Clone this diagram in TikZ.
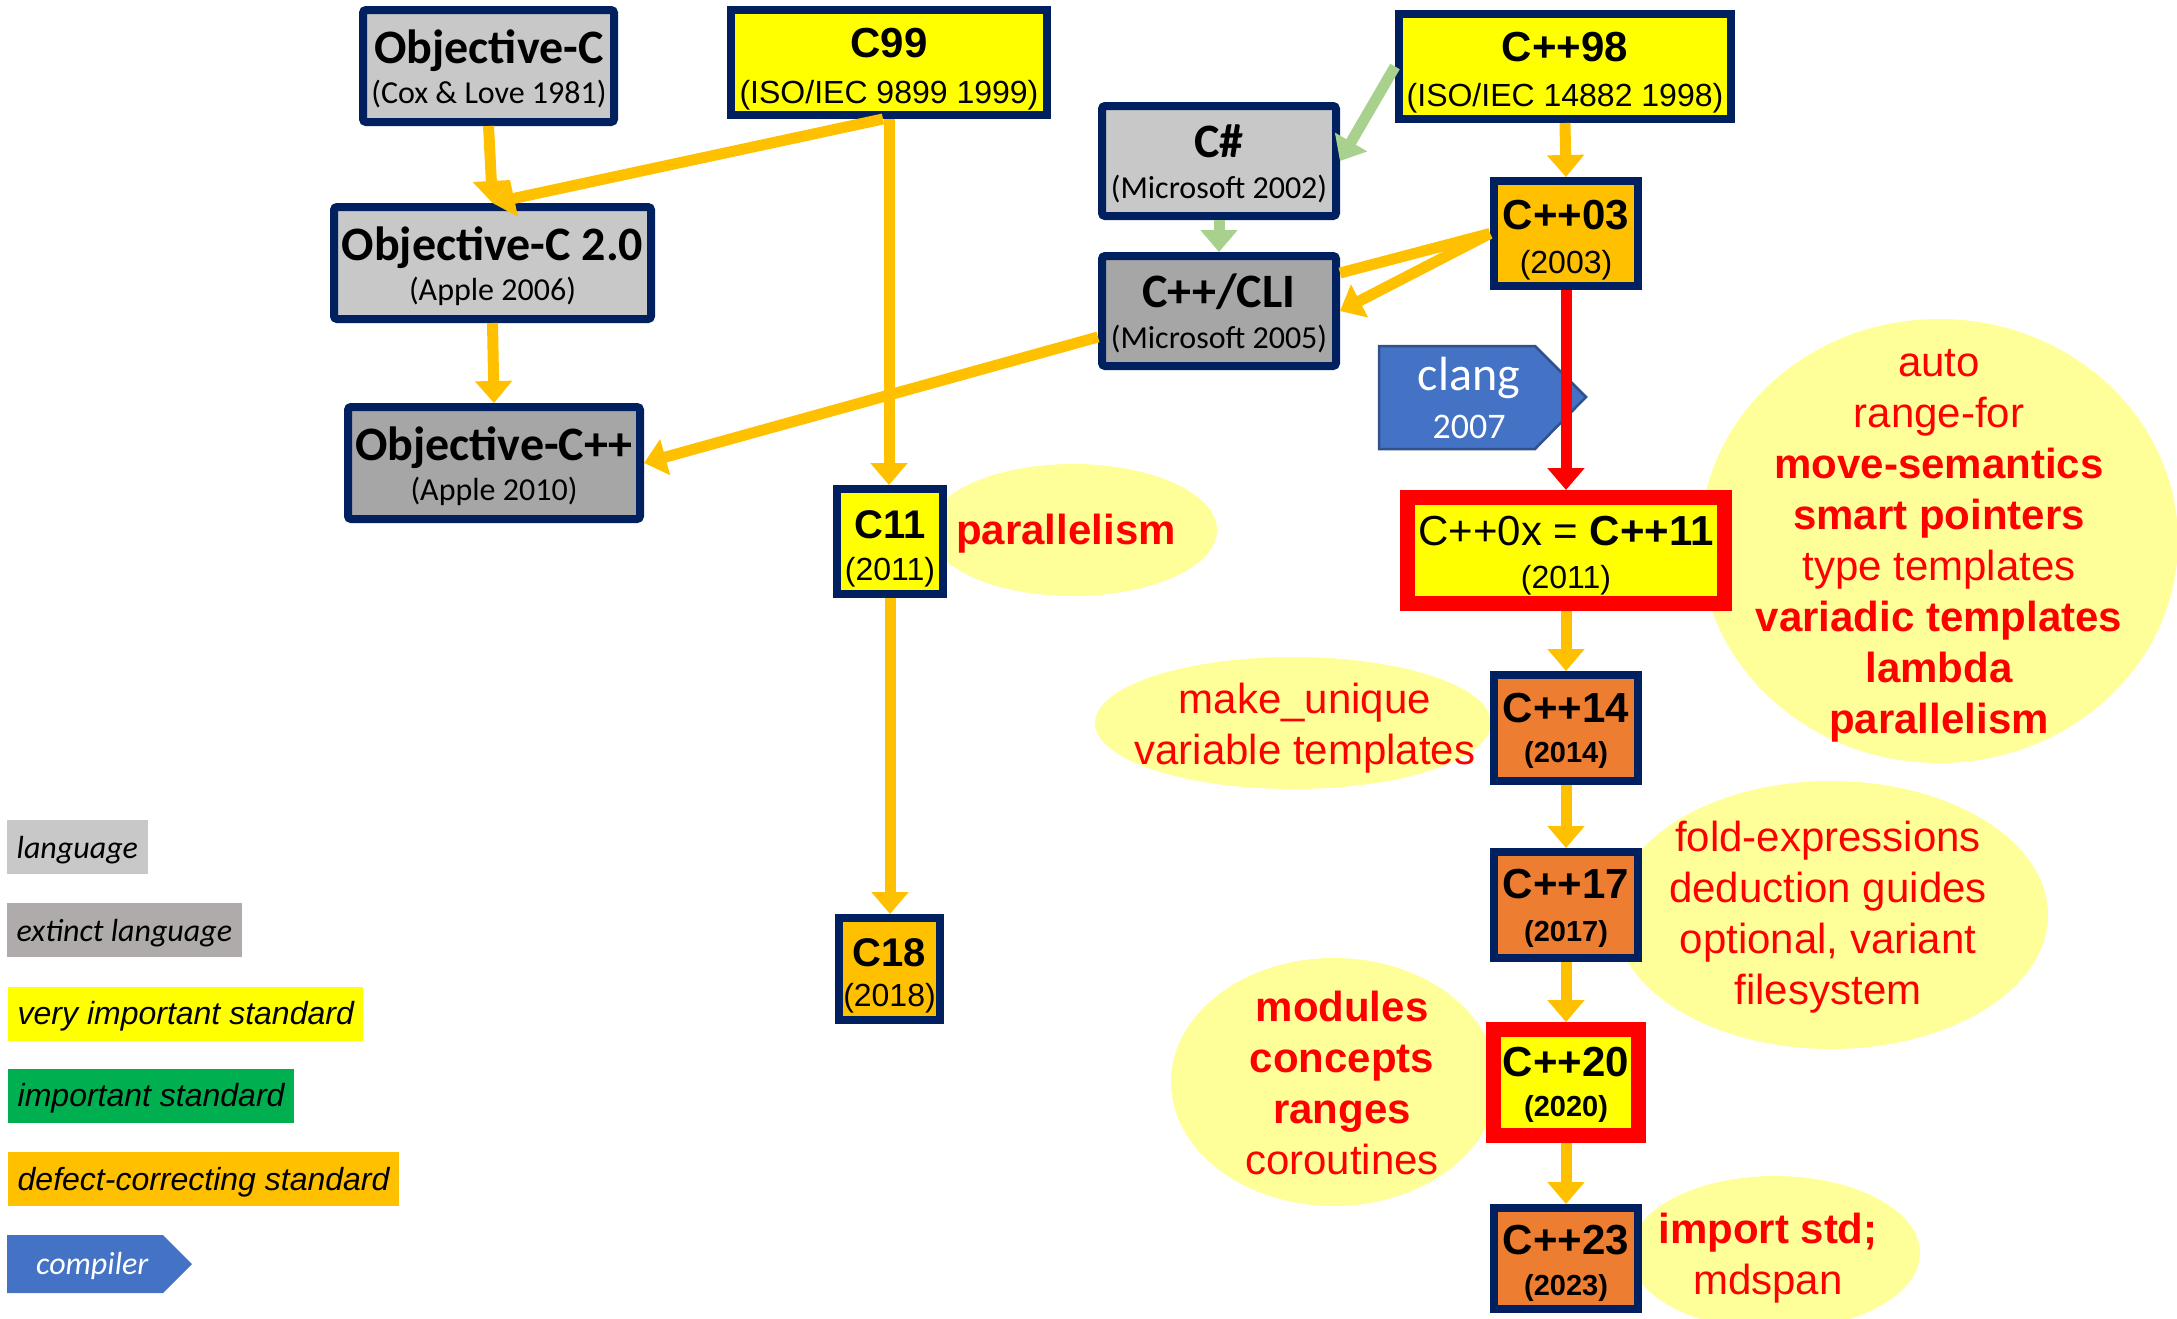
\documentclass[tikz,border=0pt]{standalone}
\usepackage{fontspec}
\setmainfont{Liberation Sans}
\newfontfamily\calibri{Carlito}
\usetikzlibrary{arrows.meta,shapes.geometric}

\definecolor{cNavy}{HTML}{002060}
\definecolor{cLang}{HTML}{C8C8C8}
\definecolor{cExtinct}{HTML}{A6A6A6}
\definecolor{cExtinctKey}{HTML}{AFABAB}
\definecolor{cYellow}{HTML}{FFFF00}
\definecolor{cGold}{HTML}{FFC000}
\definecolor{cOrange}{HTML}{ED7D31}
\definecolor{cGreen}{HTML}{00B050}
\definecolor{cLightGreen}{HTML}{A9D18E}
\definecolor{cBlue}{HTML}{4472C4}
\definecolor{cBlueEdge}{HTML}{2F528F}
\definecolor{cBubble}{HTML}{FFFF99}
\definecolor{cRed}{HTML}{FF0000}

\newcommand\fsz[1]{\fontsize{#1pt}{#1pt}\selectfont}

\tikzset{
  stdbox/.style={draw=cNavy, line width=8pt, outer sep=4pt, inner sep=0pt, rectangle},
  redbox/.style={draw=cRed, line width=15pt, outer sep=7.5pt, inner sep=0pt, rectangle, fill=cYellow},
  bubble/.style={ellipse, fill=cBubble, inner sep=0pt},
  feat/.style={inner sep=0pt, align=center, text=cRed, font=\fontsize{42pt}{51pt}\selectfont},
  ctitle/.style={anchor=base, inner sep=0pt, font=\calibri\bfseries\fsz{48}},
  csub/.style={anchor=base, inner sep=0pt, font=\calibri\fsz{32}},
  atitle/.style={anchor=base, inner sep=0pt, font=\bfseries\fsz{42}},
  asub/.style={anchor=base, inner sep=0pt, font=\fsz{32}},
  asubb/.style={anchor=base, inner sep=0pt, font=\bfseries\fsz{29}},
  keybox/.style={anchor=west, inner xsep=9.5pt, inner ysep=0pt, minimum height=54pt,
                 text height=26pt, text depth=4pt, font=\itshape\fsz{32}},
  tip/.style={-{Triangle[width=36pt,length=22pt]}},
  oarr/.style={draw=cGold, line width=11pt, tip},
  oline/.style={draw=cGold, line width=11pt},
  garr/.style={draw=cLightGreen, line width=11pt, tip},
  rarr/.style={draw=cRed, line width=11pt, tip},
}

\begin{document}
\begin{tikzpicture}[x=1pt,y=-1pt]
\useasboundingbox (0,0) rectangle (2177,1318);

% feature bubbles (behind everything)
\node[bubble, minimum width=288pt, minimum height=132pt] (b-c11) at (1073,530) {};
\node[bubble, minimum width=478pt, minimum height=444pt] (b-cpp11) at (1939,541) {};
\node[bubble, minimum width=396pt, minimum height=132pt] (b-cpp14) at (1293,723) {};
\node[bubble, minimum width=434pt, minimum height=268pt] (b-cpp17) at (1831,915) {};
\node[bubble, minimum width=326pt, minimum height=248pt] (b-cpp20) at (1334,1082) {};
\node[bubble, minimum width=290pt, minimum height=154pt] (b-cpp23) at (1775,1253) {};

\node[feat] (f-c11) at (1066,534) {\textbf{parallelism}};
\node[feat] (f-cpp11) at (1939,546) {auto\\range-for\\\textbf{move-semantics}\\\textbf{smart pointers}\\type templates\\\textbf{variadic templates}\\\textbf{lambda}\\\textbf{parallelism}};
\node[feat] (f-cpp14) at (1305,728) {make\_unique\\variable templates};
\node[feat] (f-cpp17) at (1828,917) {fold-expressions\\deduction guides\\optional, variant\\filesystem};
\node[feat] (f-cpp20) at (1342,1083) {\textbf{modules}\\\textbf{concepts}\\\textbf{ranges}\\coroutines};
\node[feat] (f-cpp23) at (1768,1258) {\textbf{import std;}\\mdspan};

% compiler tag
\draw[fill=cBlue, draw=cBlueEdge, line width=2.5pt, line join=miter]
  (1379,346) -- (1535,346) -- (1586,397) -- (1535,449) -- (1379,449) -- cycle;
\node[anchor=base, inner sep=0pt, text=white, font=\calibri\fsz{48}] (clang-t) at (1469,390) {clang};
\node[anchor=base, inner sep=0pt, text=white, font=\calibri\fsz{36}] (clang-s) at (1469,438) {2007};

% languages
\node[stdbox, fill=cLang, rounded corners=3pt, minimum width=251pt, minimum height=112pt] (objc) at (488.5,66) {};
\node[ctitle] (objc-t) at (489,63) {Objective-C};
\node[csub] (objc-s) at (489,103) {(Cox \& Love 1981)};

\node[stdbox, fill=cLang, rounded corners=3pt, minimum width=317pt, minimum height=112pt] (objc2) at (492.5,263) {};
\node[ctitle] (objc2-t) at (492.5,260) {Objective-C 2.0};
\node[csub] (objc2-s) at (492.5,300) {(Apple 2006)};

\node[stdbox, fill=cExtinct, rounded corners=3pt, minimum width=292pt, minimum height=112pt] (objcpp) at (494,463) {};
\node[ctitle] (objcpp-t) at (494,460) {Objective-C++};
\node[csub] (objcpp-s) at (494,500) {(Apple 2010)};

\node[stdbox, fill=cLang, rounded corners=3pt, minimum width=234pt, minimum height=110pt] (cs) at (1219,161) {};
\node[ctitle] (cs-t) at (1219,157) {C\#};
\node[csub] (cs-s) at (1219,198) {(Microsoft 2002)};

\node[stdbox, fill=cExtinct, rounded corners=3pt, minimum width=234pt, minimum height=110pt] (cli) at (1219,311) {};
\node[ctitle] (cli-t) at (1219,307) {C++/CLI};
\node[csub] (cli-s) at (1219,348) {(Microsoft 2005)};

% C standards
\node[stdbox, fill=cYellow, minimum width=316pt, minimum height=105pt] (c99) at (889,62.5) {};
\node[atitle] (c99-t) at (889,57) {C99};
\node[asub] (c99-s) at (889,103) {(ISO/IEC 9899 1999)};

\node[stdbox, fill=cYellow, minimum width=106pt, minimum height=105pt] (c11) at (890,541.5) {};
\node[atitle, font=\bfseries\fsz{40}] (c11-t) at (890,538) {C11};
\node[asub] (c11-s) at (890,580) {(2011)};

\node[stdbox, fill=cGold, minimum width=101pt, minimum height=102pt] (c18) at (889.5,969) {};
\node[atitle, font=\bfseries\fsz{40}] (c18-t) at (889.5,966) {C18};
\node[asub] (c18-s) at (889.5,1006) {(2018)};

% C++ standards
\node[stdbox, fill=cYellow, minimum width=332pt, minimum height=105pt] (cpp98) at (1565,66.5) {};
\node[atitle] (cpp98-t) at (1565,61) {C++98};
\node[asub] (cpp98-s) at (1565,106) {(ISO/IEC 14882 1998)};

\node[stdbox, fill=cGold, minimum width=144pt, minimum height=105pt] (cpp03) at (1566,233.5) {};
\node[atitle] (cpp03-t) at (1566,229) {C++03};
\node[asub] (cpp03-s) at (1566,273) {(2003)};

\node[redbox, minimum width=317pt, minimum height=106pt] (cpp11) at (1566,550.5) {};
\node[asub, font=\fsz{42}] (cpp11-t) at (1566,545) {C++0x = \textbf{C++11}};
\node[asub] (cpp11-s) at (1566,588) {(2011)};

\node[stdbox, fill=cOrange, minimum width=144pt, minimum height=106pt] (cpp14) at (1566,728) {};
\node[atitle] (cpp14-t) at (1566,722) {C++14};
\node[asubb] (cpp14-s) at (1566,762) {(2014)};

\node[stdbox, fill=cOrange, minimum width=144pt, minimum height=106pt] (cpp17) at (1566,905) {};
\node[atitle] (cpp17-t) at (1566,898) {C++17};
\node[asubb] (cpp17-s) at (1566,941) {(2017)};

\node[redbox, minimum width=145pt, minimum height=106pt] (cpp20) at (1566,1082.5) {};
\node[atitle] (cpp20-t) at (1566,1076) {C++20};
\node[asubb] (cpp20-s) at (1566,1116) {(2020)};

\node[stdbox, fill=cOrange, minimum width=144pt, minimum height=101pt] (cpp23) at (1566,1258.5) {};
\node[atitle] (cpp23-t) at (1566,1254) {C++23};
\node[asubb] (cpp23-s) at (1566,1295) {(2023)};

% lineage
\draw[oarr] (objc.south) -- (objc2.north);
\draw[oarr] ([xshift=-6pt]c99.south) -- (objc2.north);
\draw[oarr] (objc2.south) -- (objcpp.north);
\draw[oarr] (c99.south) -- (c99.south |- c11.north);
\draw[oarr] ([yshift=-26pt]cli.west) -- (objcpp.east);
\draw[garr] (cpp98.west) -- (cs.east);
\draw[garr] (cs.south) -- (cli.north);
\draw[oline] (cpp03.west) -- ([yshift=38pt]cli.east);
\draw[oarr] (cpp03.west) -- (cli.east);
\draw[oarr] (cpp98.south) -- (cpp03.north);
\draw[rarr] (cpp03.south) -- (cpp11.north);
\draw[oarr] (cpp11.south) -- (cpp14.north);
\draw[oarr] (cpp14.south) -- (cpp17.north);
\draw[oarr] (cpp17.south) -- (cpp20.north);
\draw[oarr] (cpp20.south) -- (cpp23.north);
\draw[oarr] (c11.south) -- (c11.south |- c18.north);

% key
\node[keybox, fill=cLang, font=\calibri\itshape\fsz{32}] (k-lang) at (7,847) {language};
\node[keybox, fill=cExtinctKey, font=\calibri\itshape\fsz{32}] (k-extinct) at (7,930) {extinct language};
\node[keybox, fill=cYellow] (k-vimp) at (8,1013.5) {very important standard};
\node[keybox, fill=cGreen] (k-imp) at (8,1095.5) {important standard};
\node[keybox, fill=cGold] (k-defect) at (8,1179) {defect-correcting standard};
\fill[cBlue] (7,1235) -- (163,1235) -- (192,1264) -- (163,1293) -- (7,1293) -- cycle;
\node[anchor=base west, inner sep=0pt, text=white, font=\calibri\itshape\fsz{32}] (k-compiler) at (36,1274) {compiler};
\end{tikzpicture}
\end{document}
